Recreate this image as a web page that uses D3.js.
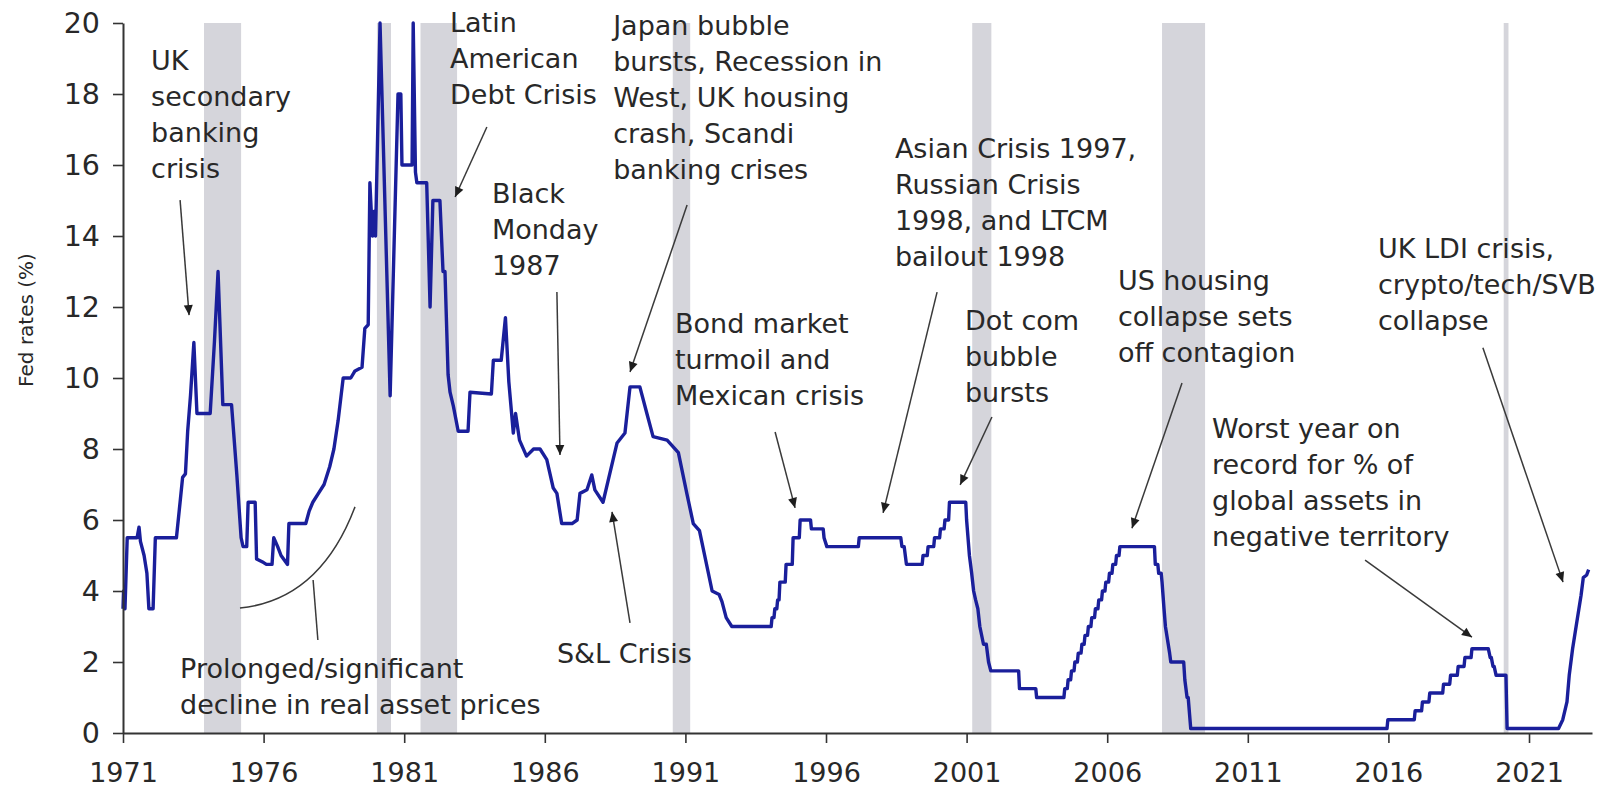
<!DOCTYPE html>
<html>
<head>
<meta charset="utf-8">
<script src="https://cdn.jsdelivr.net/npm/d3@7"></script>
<style>
  body { margin: 0; background: #fff; }
  svg text { font-family: "DejaVu Sans", sans-serif; fill: #282828; }
</style>
</head>
<body>
<svg id="chart" width="1602" height="787"></svg>
<script>
// Fed rates (%) (decimal year, value)
var dates = [
  1971.00, 1971.02, 1971.07, 1971.15, 1971.50, 1971.57, 1971.62, 1971.75, 1971.85, 1971.92,
  1972.07, 1972.15, 1972.90, 1973.03, 1973.12, 1973.22, 1973.30, 1973.40, 1973.52, 1973.63,
  1974.10, 1974.25, 1974.38, 1974.55, 1974.86, 1975.05, 1975.20, 1975.27, 1975.40, 1975.45,
  1975.70, 1975.75, 1976.00, 1976.10, 1976.30, 1976.36, 1976.50, 1976.62, 1976.85, 1976.90,
  1977.50, 1977.62, 1977.75, 1977.95, 1978.15, 1978.35, 1978.50, 1978.65, 1978.83, 1979.10,
  1979.25, 1979.50, 1979.60, 1979.72, 1979.78, 1979.87, 1979.94, 1979.98, 1980.14, 1980.50,
  1980.78, 1980.88, 1980.92, 1981.28, 1981.32, 1981.40, 1981.45, 1981.80, 1981.92, 1982.02,
  1982.27, 1982.38, 1982.45, 1982.56, 1982.63, 1982.75, 1982.92, 1983.27, 1983.34, 1984.10,
  1984.17, 1984.45, 1984.60, 1984.72, 1984.88, 1984.96, 1985.10, 1985.35, 1985.60, 1985.83,
  1986.07, 1986.30, 1986.43, 1986.60, 1986.97, 1987.15, 1987.25, 1987.50, 1987.67, 1987.78,
  1988.07, 1988.25, 1988.57, 1988.85, 1989.03, 1989.38, 1989.63, 1989.85, 1990.35, 1990.75,
  1991.05, 1991.28, 1991.50, 1991.95, 1992.20, 1992.30, 1992.45, 1992.65, 1994.05, 1994.08,
  1994.15, 1994.18, 1994.25, 1994.28, 1994.33, 1994.36, 1994.55, 1994.58, 1994.80, 1994.83,
  1995.05, 1995.08, 1995.45, 1995.48, 1995.90, 1995.93, 1996.03, 1997.15, 1997.18, 1998.66,
  1998.70, 1998.78, 1998.82, 1998.86, 1999.42, 1999.45, 1999.60, 1999.63, 1999.83, 1999.86,
  2000.04, 2000.07, 2000.20, 2000.23, 2000.36, 2000.39, 2000.97, 2001.00, 2001.05, 2001.10,
  2001.18, 2001.25, 2001.32, 2001.40, 2001.47, 2001.60, 2001.70, 2001.78, 2001.86, 2001.92,
  2002.85, 2002.88, 2003.46, 2003.49, 2004.46, 2004.49, 2004.58, 2004.61, 2004.70, 2004.73,
  2004.82, 2004.85, 2004.94, 2004.97, 2005.07, 2005.10, 2005.18, 2005.21, 2005.30, 2005.33,
  2005.42, 2005.45, 2005.55, 2005.58, 2005.67, 2005.70, 2005.80, 2005.83, 2005.92, 2005.95,
  2006.05, 2006.08, 2006.17, 2006.20, 2006.30, 2006.33, 2006.42, 2006.45, 2007.68, 2007.71,
  2007.80, 2007.83, 2007.92, 2007.95, 2008.02, 2008.07, 2008.22, 2008.26, 2008.72, 2008.76,
  2008.84, 2008.88, 2008.97, 2015.95, 2015.98, 2016.92, 2016.95, 2017.18, 2017.21, 2017.44,
  2017.47, 2017.93, 2017.96, 2018.18, 2018.21, 2018.45, 2018.48, 2018.69, 2018.72, 2018.94,
  2018.97, 2019.55, 2019.62, 2019.66, 2019.72, 2019.76, 2019.83, 2020.18, 2020.22, 2022.05,
  2022.20, 2022.35, 2022.43, 2022.55, 2022.70, 2022.85, 2022.93, 2023.05, 2023.12
];
var rates = [
  3.5, 4.0, 3.5, 5.5, 5.5, 5.8, 5.4, 5.0, 4.5, 3.5,
  3.5, 5.5, 5.5, 6.5, 7.2, 7.3, 8.5, 9.5, 11.0, 9.0,
  9.0, 11.0, 13.0, 9.25, 9.25, 7.25, 5.5, 5.25, 5.25, 6.5,
  6.5, 4.9, 4.8, 4.75, 4.75, 5.5, 5.25, 5.0, 4.75, 5.9,
  5.9, 6.25, 6.5, 6.75, 7.0, 7.5, 8.0, 8.8, 10.0, 10.0,
  10.2, 10.3, 11.4, 11.5, 15.5, 14.0, 14.7, 14.0, 20.0, 9.5,
  18.0, 18.0, 16.0, 16.0, 20.0, 15.8, 15.5, 15.5, 12.0, 15.0,
  15.0, 13.0, 13.0, 10.1, 9.6, 9.2, 8.5, 8.5, 9.6, 9.55,
  10.5, 10.5, 11.7, 9.9, 8.45, 9.0, 8.25, 7.8, 8.0, 8.0,
  7.7, 6.9, 6.75, 5.9, 5.9, 6.0, 6.75, 6.85, 7.27, 6.85,
  6.5, 7.1, 8.17, 8.45, 9.75, 9.75, 9.0, 8.35, 8.25, 7.9,
  6.75, 5.9, 5.7, 4.0, 3.9, 3.7, 3.25, 3.0, 3.0, 3.25,
  3.25, 3.5, 3.5, 3.75, 3.75, 4.25, 4.25, 4.75, 4.75, 5.5,
  5.5, 6.0, 6.0, 5.75, 5.75, 5.5, 5.25, 5.25, 5.5, 5.5,
  5.25, 5.25, 5.0, 4.75, 4.75, 5.0, 5.0, 5.25, 5.25, 5.5,
  5.5, 5.75, 5.75, 6.0, 6.0, 6.5, 6.5, 6.0, 5.5, 5.0,
  4.5, 4.0, 3.75, 3.5, 3.0, 2.5, 2.5, 2.0, 1.75, 1.75,
  1.75, 1.25, 1.25, 1.0, 1.0, 1.25, 1.25, 1.5, 1.5, 1.75,
  1.75, 2.0, 2.0, 2.25, 2.25, 2.5, 2.5, 2.75, 2.75, 3.0,
  3.0, 3.25, 3.25, 3.5, 3.5, 3.75, 3.75, 4.0, 4.0, 4.25,
  4.25, 4.5, 4.5, 4.75, 4.75, 5.0, 5.0, 5.25, 5.25, 4.75,
  4.75, 4.5, 4.5, 4.25, 3.5, 3.0, 2.25, 2.0, 2.0, 1.5,
  1.0, 1.0, 0.125, 0.125, 0.375, 0.375, 0.625, 0.625, 0.875, 0.875,
  1.125, 1.125, 1.375, 1.375, 1.625, 1.625, 1.875, 1.875, 2.125, 2.125,
  2.375, 2.375, 2.125, 2.125, 1.875, 1.875, 1.625, 1.625, 0.125, 0.125,
  0.375, 0.875, 1.625, 2.375, 3.125, 3.875, 4.375, 4.45, 4.6
];

// shaded crisis / recession periods
var bandStart = [1973.88, 1980.03, 1981.58, 1990.55, 2001.20, 2007.95, 2020.10];
var bandEnd   = [1975.20, 1980.53, 1982.88, 1991.17, 2001.88, 2009.48, 2020.27];

var xTicks = [1971, 1976, 1981, 1986, 1991, 1996, 2001, 2006, 2011, 2016, 2021];
var yTicks = [0, 2, 4, 6, 8, 10, 12, 14, 16, 18, 20];

// annotations, placed in data space (year, rate)
var notes = [
  { lines: ["UK", "secondary", "banking", "crisis"], at: [1972.0, 18.68], from: [1973.03, 15.01], to: [1973.35, 11.77] },
  { lines: ["Latin", "American", "Debt Crisis"], at: [1982.63, 19.75], from: [1983.94, 17.07], to: [1982.81, 15.1] },
  { lines: ["Black", "Monday", "1987"], at: [1984.12, 14.93], from: [1986.43, 12.42], to: [1986.54, 7.83] },
  { lines: ["Japan bubble", "bursts, Recession in", "West, UK housing", "crash, Scandi", "banking crises"], at: [1988.43, 19.66], from: [1991.06, 14.87], to: [1989.03, 10.17] },
  { lines: ["Bond market", "turmoil and", "Mexican crisis"], at: [1990.63, 11.27], from: [1994.19, 8.48], to: [1994.9, 6.34] },
  { lines: ["Asian Crisis 1997,", "Russian Crisis", "1998, and LTCM", "bailout 1998"], at: [1998.45, 16.2], from: [1999.95, 12.42], to: [1998.03, 6.2] },
  { lines: ["Dot com", "bubble", "bursts"], at: [2000.94, 11.35], from: [2001.9, 8.9], to: [2000.77, 6.99] },
  { lines: ["US housing", "collapse sets", "off contagion"], at: [2006.38, 12.48], from: [2008.66, 9.86], to: [2006.88, 5.77] },
  { lines: ["Worst year on", "record for % of", "global assets in", "negative territory"], at: [2009.73, 8.31], from: [2015.17, 4.87], to: [2018.97, 2.7] },
  { lines: ["UK LDI crisis,", "crypto/tech/SVB", "collapse"], at: [2015.63, 13.38], from: [2019.36, 10.85], to: [2022.21, 4.25] },
  { lines: ["S&L Crisis"], at: [1986.43, 1.97], from: [1989.03, 3.1], to: [1988.39, 6.23] },
  { lines: ["Prolonged/significant", "decline in real asset prices"], at: [1973.03, 1.55], from: [1977.76, 4.31], to: [1977.93, 2.62] }
];
// curved bracket under the 1975-78 trough
var arcPts = [[1975.16, 3.52], [1978.0, 3.75], [1979.25, 6.37]];

var svg = d3.select('#chart');
var x = d3.scaleLinear().domain([1971, 2023.24]).range([123, 1592]);
var y = d3.scaleLinear().domain([0, 20]).range([733, 23]);

var defs = svg.append('defs');
defs.append('marker')
  .attr('id', 'arrow')
  .attr('viewBox', '0 0 10 10')
  .attr('refX', 10).attr('refY', 5)
  .attr('markerWidth', 11).attr('markerHeight', 10)
  .attr('markerUnits', 'userSpaceOnUse')
  .attr('orient', 'auto')
  .append('path')
  .attr('d', 'M0,0.5 L10,5 L0,9.5 Z')
  .attr('fill', '#1e1e1e');

// bands
svg.append('g').selectAll('rect')
  .data(bandStart)
  .enter().append('rect')
  .attr('x', function (d) { return x(d); })
  .attr('y', y(20))
  .attr('width', function (d, i) { return x(bandEnd[i]) - x(d); })
  .attr('height', y(0) - y(20))
  .attr('fill', '#d5d5db');

// the rate line
var line = d3.line()
  .x(function (d) { return x(d); })
  .y(function (d, i) { return y(rates[i]); });

svg.append('path')
  .datum(dates)
  .attr('d', line)
  .attr('fill', 'none')
  .attr('stroke', '#1a1f9b')
  .attr('stroke-width', 3.4)
  .attr('stroke-linejoin', 'round');

// axes
var yAxis = svg.append('g')
  .attr('transform', 'translate(' + x(1971) + ',0)')
  .call(d3.axisLeft(y).tickValues(yTicks).tickSize(10).tickSizeOuter(0).tickPadding(13));
var xAxis = svg.append('g')
  .attr('transform', 'translate(0,' + y(0) + ')')
  .call(d3.axisBottom(x).tickValues(xTicks).tickFormat(d3.format('d')).tickSize(10).tickSizeOuter(0).tickPadding(20));

[yAxis, xAxis].forEach(function (ax) {
  ax.select('.domain').attr('stroke', '#333').attr('stroke-width', 2);
  ax.selectAll('.tick line').attr('stroke', '#333').attr('stroke-width', 1.6);
  ax.selectAll('.tick text').attr('font-size', 27).attr('font-family', '"DejaVu Sans", sans-serif').attr('fill', '#282828');
});
yAxis.selectAll('.tick text').attr('font-size', 28.5);

svg.append('text')
  .attr('transform', 'translate(33,320) rotate(-90)')
  .attr('text-anchor', 'middle')
  .attr('font-size', 20)
  .text('Fed rates (%)');

// annotations
var g = svg.append('g');
notes.forEach(function (n) {
  var t = g.append('text')
    .attr('x', x(n.at[0]))
    .attr('y', y(n.at[1]))
    .attr('font-size', 27);
  n.lines.forEach(function (s, i) {
    t.append('tspan')
      .attr('x', x(n.at[0]))
      .attr('dy', i === 0 ? 0 : 36)
      .text(s);
  });
  var isArc = n.lines[0].indexOf('Prolonged') === 0;
  g.append('line')
    .attr('x1', x(n.from[0])).attr('y1', y(n.from[1]))
    .attr('x2', x(n.to[0])).attr('y2', y(n.to[1]))
    .attr('stroke', '#3a3a3a')
    .attr('stroke-width', 1.5)
    .attr('marker-end', isArc ? null : 'url(#arrow)');
});

var p = d3.path();
p.moveTo(x(arcPts[0][0]), y(arcPts[0][1]));
p.quadraticCurveTo(x(arcPts[1][0]), y(arcPts[1][1]), x(arcPts[2][0]), y(arcPts[2][1]));
g.append('path')
  .attr('d', p.toString())
  .attr('fill', 'none')
  .attr('stroke', '#3a3a3a')
  .attr('stroke-width', 1.5);
</script>
</body>
</html>
